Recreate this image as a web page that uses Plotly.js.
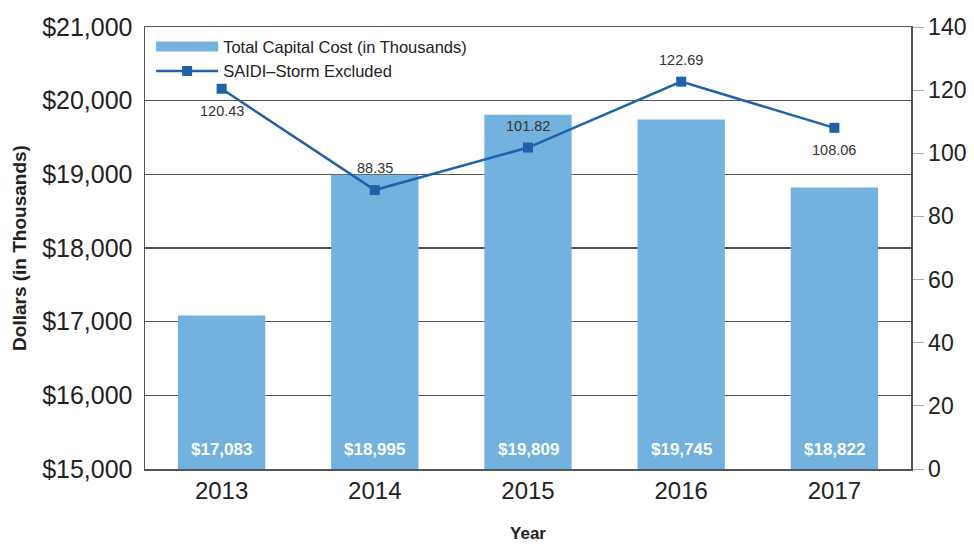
<!DOCTYPE html>
<html>
<head>
<meta charset="utf-8">
<script src="https://cdn.plot.ly/plotly-3.0.1.min.js"></script>
<style>html,body{margin:0;padding:0;background:#fff;}#chart{width:974px;height:544px;}</style>
</head>
<body>
<div id="chart"></div>
<script>
const years = ['2013', '2014', '2015', '2016', '2017'];
const capitalCost = [17083, 18995, 19809, 19745, 18822];
const saidi = [120.43, 88.35, 101.82, 122.69, 108.06];
const saidiLabelSide = [-1, 1, 1, 1, -1]; // -1 below, 1 above
const leftTicks = [15000, 16000, 17000, 18000, 19000, 20000, 21000];
const rightTicks = [0, 20, 40, 60, 80, 100, 120, 140];

const FONT = 'Liberation Sans, Arial, sans-serif';
const BAR_COLOR = '#73b1de';
const LINE_COLOR = '#1f62ab';

// legend-only swatch for the bars (wide rectangle like the reference)
const barLegend = {
  type: 'scatter',
  mode: 'lines',
  name: 'Total Capital Cost (in Thousands)',
  x: [null], y: [null],
  line: {color: BAR_COLOR, width: 16},
  showlegend: true,
  hoverinfo: 'skip'
};

const bars = {
  type: 'bar',
  name: 'Total Capital Cost (in Thousands)',
  x: years,
  y: capitalCost,
  width: 0.57,
  marker: {color: BAR_COLOR},
  showlegend: false,
  hoverinfo: 'x+y'
};

const line = {
  type: 'scatter',
  mode: 'lines+markers',
  name: 'SAIDI\u2013Storm Excluded',
  x: years,
  y: saidi,
  yaxis: 'y2',
  line: {color: LINE_COLOR, width: 2.5},
  marker: {color: LINE_COLOR, symbol: 'square', size: 10}
};

const lineLabels = years.map((yr, i) => ({
  x: i, y: saidi[i], xref: 'x', yref: 'y2',
  text: saidi[i].toFixed(2),
  showarrow: false,
  yshift: saidiLabelSide[i] * 22,
  font: {family: FONT, size: 14.5, color: '#333333'}
}));

const barLabels = years.map((yr, i) => ({
  x: i, y: 15000, xref: 'x', yref: 'y',
  yanchor: 'bottom',
  text: '<b>$' + capitalCost[i].toLocaleString('en-US') + '</b>',
  showarrow: false,
  yshift: 8,
  font: {family: FONT, size: 17, color: '#ffffff'}
}));

const layout = {
  width: 974, height: 544,
  margin: {l: 145, r: 63, t: 27, b: 75},
  paper_bgcolor: '#ffffff',
  plot_bgcolor: '#ffffff',
  font: {family: FONT, color: '#222222'},
  showlegend: true,
  legend: {
    x: 0.008, y: 0.995, xanchor: 'left', yanchor: 'top',
    bgcolor: 'rgba(0,0,0,0)',
    font: {family: FONT, size: 16.5, color: '#222222'},
    itemwidth: 62,
    tracegroupgap: 0,
    traceorder: 'normal'
  },
  xaxis: {
    type: 'category',
    range: [-0.5, 4.5],
    showline: true, linecolor: '#555555', linewidth: 1.5, mirror: true,
    ticks: '', tickfont: {family: FONT, size: 24, color: '#222222'},
    title: {text: 'Year', font: {family: FONT, size: 17, color: '#222222', weight: 'bold'}, standoff: 24},
    fixedrange: true
  },
  yaxis: {
    range: [15000, 21000],
    tickvals: leftTicks,
    ticktext: leftTicks.map(v => '$' + v.toLocaleString('en-US')),
    showgrid: true, gridcolor: '#555555', gridwidth: 1.5,
    showline: true, linecolor: '#555555', linewidth: 1.5,
    zeroline: false,
    ticks: '', ticklabelstandoff: 6,
    tickfont: {family: FONT, size: 25, color: '#222222'},
    title: {text: 'Dollars (in Thousands)', font: {family: FONT, size: 19, color: '#222222', weight: 'bold'}, standoff: 10}
  },
  yaxis2: {
    overlaying: 'y', side: 'right',
    range: [0, 140],
    tickvals: rightTicks,
    showgrid: false, zeroline: false,
    showline: true, linecolor: '#555555', linewidth: 1.5,
    ticks: 'outside', ticklen: 11, tickcolor: '#aaaaaa', tickwidth: 1,
    tickfont: {family: FONT, size: 23, color: '#222222'}
  },
  annotations: lineLabels.concat(barLabels),
  bargap: 0.43
};

Plotly.newPlot('chart', [barLegend, bars, line], layout, {displayModeBar: false, staticPlot: true});
</script>
</body>
</html>
